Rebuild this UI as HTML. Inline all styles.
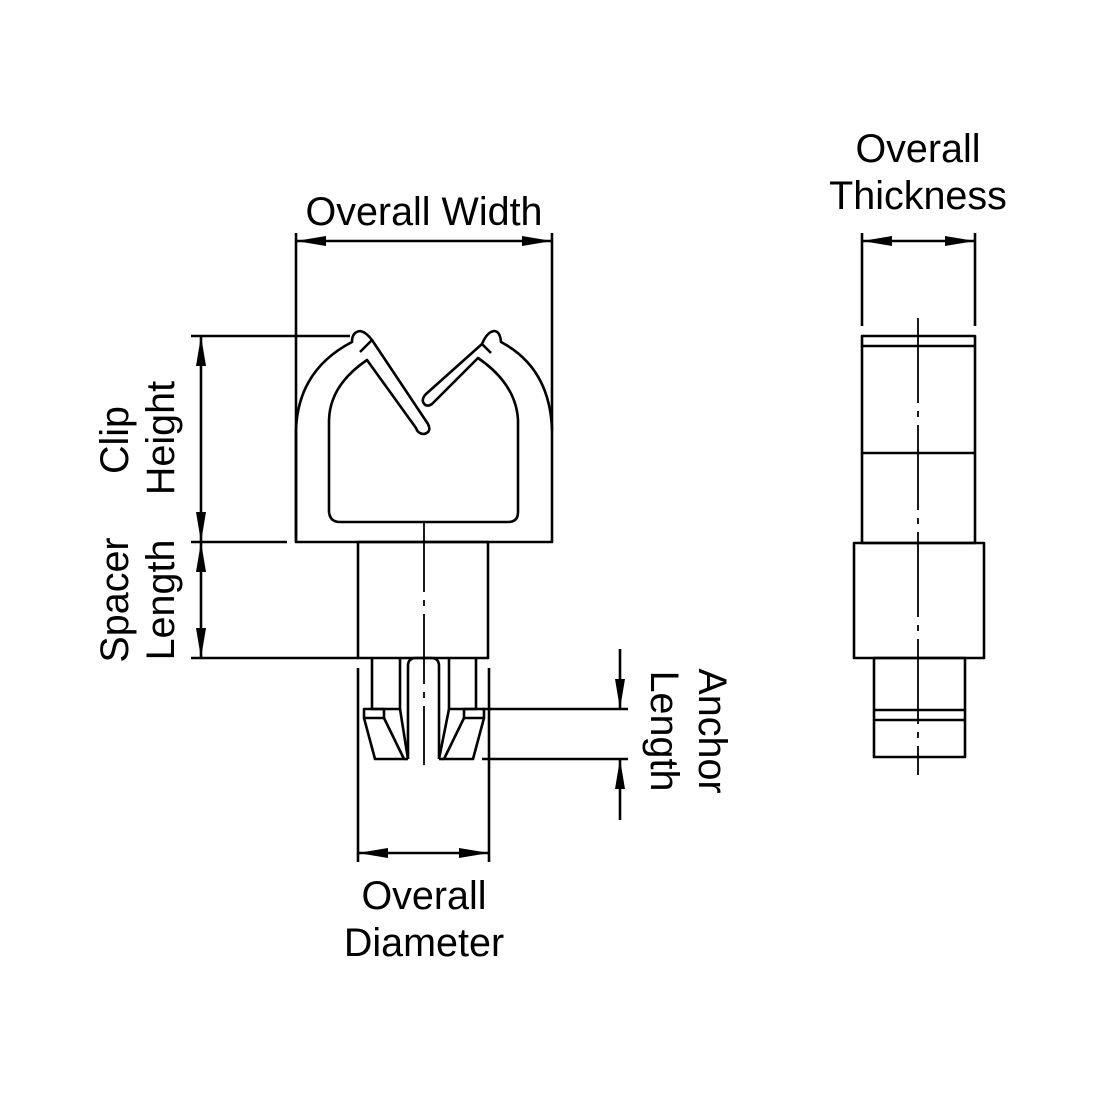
<!DOCTYPE html>
<html><head><meta charset="utf-8"><style>
html,body{margin:0;padding:0;background:#fff;}
svg{display:block;}
text{font-family:"Liberation Sans",Arial,sans-serif;font-size:39.5px;fill:#000;}
</style></head><body>
<svg width="1100" height="1100" viewBox="0 0 1100 1100" xmlns="http://www.w3.org/2000/svg">
<defs>
<marker id="a" viewBox="0 0 30 10" refX="30" refY="5" markerWidth="30" markerHeight="10" markerUnits="userSpaceOnUse" orient="auto">
<path d="M0,0 L30,5 L0,10 Z" fill="#000"/>
</marker>
</defs>
<g fill="none" stroke="#000" stroke-width="2.6" stroke-linejoin="round">
<line x1="296" y1="233" x2="296" y2="542"/>
<line x1="552" y1="233" x2="552" y2="430"/>
<line x1="424" y1="241" x2="296" y2="241" marker-end="url(#a)"/>
<line x1="424" y1="241" x2="552" y2="241" marker-end="url(#a)"/>
<line x1="191" y1="336" x2="350" y2="336"/>
<line x1="191" y1="542" x2="287" y2="542"/>
<line x1="191" y1="658" x2="358" y2="658"/>
<line x1="201" y1="440" x2="201" y2="336" marker-end="url(#a)"/>
<line x1="201" y1="440" x2="201" y2="542" marker-end="url(#a)"/>
<line x1="201" y1="600" x2="201" y2="542" marker-end="url(#a)"/>
<line x1="201" y1="600" x2="201" y2="658" marker-end="url(#a)"/>
<path d="M296,542 L296,430 Q298,370 352,342 Q352,332 360,331 Q366,332 372,340 L428,424 Q432,432 424,434 Q418,434 416,428 L367,360 Q330,385 329,420 L329,512 Q330,522 340,522 L508,522 Q518,522 518,512 L518,420 Q516,384 478,358 L432,404 Q426,408 423,402 Q422,398 426,394 L482,344 Q487,332 494,331 Q500,331 501,342 Q550,368 552,430 L552,542 Z"/>
<line x1="372" y1="340" x2="360" y2="352"/>
<line x1="482" y1="344" x2="491" y2="353"/>
<rect x="358" y="542" width="130" height="116"/>
<path d="M372,658 L372,709 L400,709 L400,658"/>
<path d="M364,709 L384,709 L384,718 L364,718 Z"/>
<path d="M364,718 L375,759 L404,759 L384,718"/>
<line x1="400" y1="709" x2="408" y2="759"/>
<path d="M408,759 L408,666 Q408,658 416,658 L431,658 Q439,658 439,666 L439,759"/>
<path d="M449,658 L449,709 L476,709 L476,658"/>
<path d="M464,709 L484,709 L484,718 L464,718 Z"/>
<path d="M484,718 L473,759 L444,759 L464,718"/>
<line x1="449" y1="709" x2="439" y2="759"/>
<line x1="404" y1="759" x2="408" y2="759"/>
<line x1="439" y1="759" x2="444" y2="759"/>
<line x1="358" y1="668" x2="358" y2="862"/>
<line x1="489" y1="668" x2="489" y2="862"/>
<line x1="424" y1="853" x2="358" y2="853" marker-end="url(#a)"/>
<line x1="424" y1="853" x2="489" y2="853" marker-end="url(#a)"/>
<line x1="482" y1="709" x2="628" y2="709"/>
<line x1="482" y1="759" x2="628" y2="759"/>
<line x1="620" y1="649" x2="620" y2="709" marker-end="url(#a)"/>
<line x1="620" y1="820" x2="620" y2="759" marker-end="url(#a)"/>
<line x1="862" y1="233" x2="862" y2="326"/>
<line x1="975" y1="233" x2="975" y2="326"/>
<line x1="918" y1="241" x2="862" y2="241" marker-end="url(#a)"/>
<line x1="918" y1="241" x2="975" y2="241" marker-end="url(#a)"/>
<rect x="862" y="336" width="113" height="207"/>
<line x1="862" y1="346" x2="975" y2="346"/>
<line x1="862" y1="453" x2="975" y2="453"/>
<rect x="854" y="543" width="130" height="115"/>
<rect x="874" y="658" width="91" height="99"/>
<line x1="874" y1="710" x2="965" y2="710"/>
<line x1="874" y1="720" x2="965" y2="720"/>
</g>
<g stroke="#000" stroke-width="1.8" fill="none">
<line x1="424" y1="522" x2="424" y2="765" stroke-dasharray="70,8,6,8"/>
<line x1="918" y1="318" x2="918" y2="775" stroke-dasharray="85,8,6,8"/>
</g>
<text x="424" y="225" text-anchor="middle">Overall Width</text>
<text x="918" y="162" text-anchor="middle">Overall</text>
<text x="918" y="209" text-anchor="middle">Thickness</text>
<text x="424" y="909" text-anchor="middle">Overall</text>
<text x="424" y="956" text-anchor="middle">Diameter</text>
<text transform="translate(128,440) rotate(-90)" text-anchor="middle">Clip</text>
<text transform="translate(174,438) rotate(-90)" text-anchor="middle">Height</text>
<text transform="translate(128,600) rotate(-90)" text-anchor="middle">Spacer</text>
<text transform="translate(174,600) rotate(-90)" text-anchor="middle">Length</text>
<text transform="translate(699,731) rotate(90)" text-anchor="middle">Anchor</text>
<text transform="translate(651,731) rotate(90)" text-anchor="middle">Length</text>
</svg>
</body></html>
